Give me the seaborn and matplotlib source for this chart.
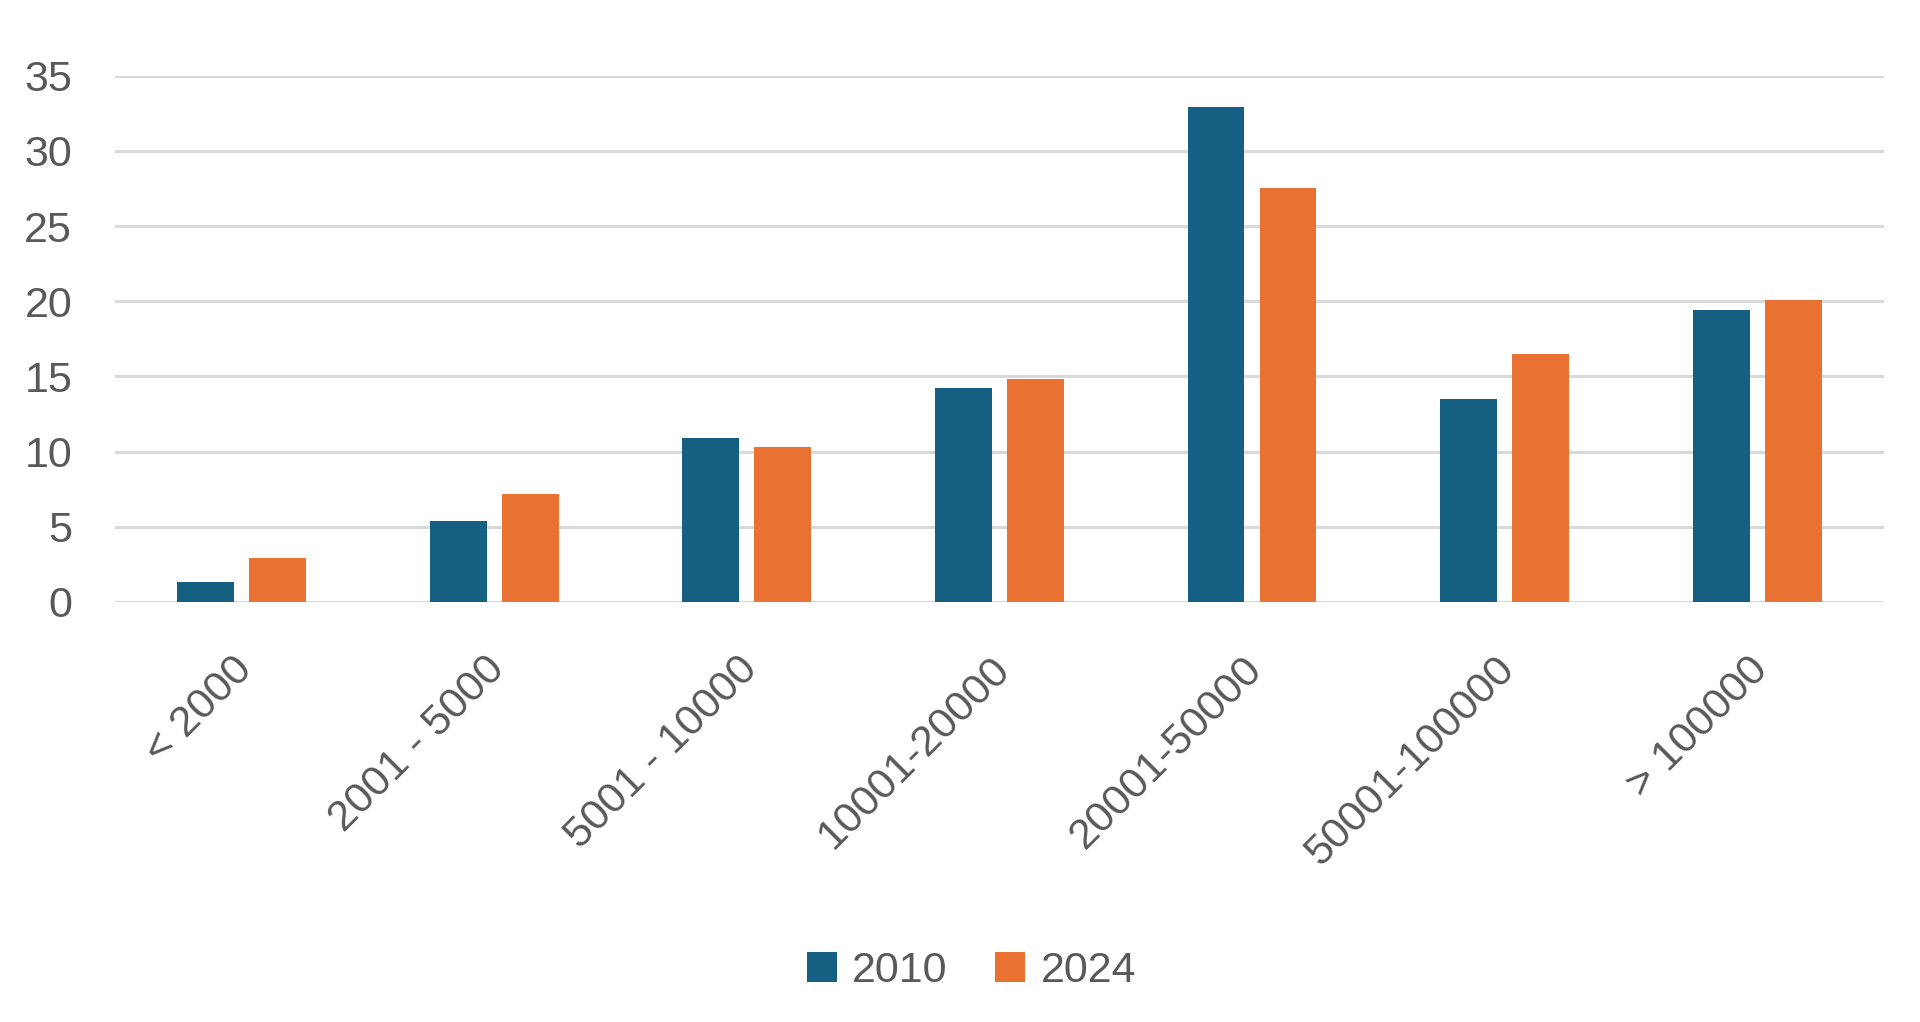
import matplotlib
matplotlib.use("Agg")
import matplotlib.pyplot as plt
import matplotlib.transforms as mtransforms
import seaborn as sns
import pandas as pd

categories = ["< 2000", "2001 - 5000", "5001 - 10000", "10001-20000",
              "20001-50000", "50001-100000", "> 100000"]
values_2010 = [1.3, 5.4, 10.9, 14.2, 32.9, 13.5, 19.4]
values_2024 = [2.9, 7.2, 10.3, 14.8, 27.5, 16.5, 20.1]
series_names = ["2010", "2024"]
colors = ["#156082", "#E97132"]

df = pd.DataFrame({
    "category": categories * 2,
    "value": values_2010 + values_2024,
    "year": [series_names[0]] * len(categories) + [series_names[1]] * len(categories),
})

sns.set_theme(style="white")
plt.rcParams['font.family'] = ['Liberation Sans', 'DejaVu Sans']

fig = plt.figure(figsize=(19.2, 10.22), dpi=100)
ax = fig.add_axes([0.060, 0.411, 0.921, 0.515])

sns.barplot(data=df, x="category", y="value", hue="year", order=categories,
            hue_order=series_names, palette=colors, width=0.57, gap=0.21,
            saturation=1, ax=ax, legend=True, edgecolor="none")

ax.set_ylim(0, 35)
ax.set_xlim(-0.5, len(categories) - 0.5)
ax.set_yticks(range(0, 36, 5))
ax.yaxis.grid(True, color="#D9D9D9", linewidth=2.2)
ax.set_axisbelow(True)
for s in ax.spines.values():
    s.set_visible(False)
ax.set_xlabel("")
ax.set_ylabel("")
ax.tick_params(axis="both", length=0, labelsize=31, colors="#595959")
ax.tick_params(axis="y", pad=31)
for lab in ax.get_yticklabels():
    lab.set_horizontalalignment("right")
ax.set_xticks(range(len(categories)))
ax.set_xticklabels(categories, rotation=45, ha="right", rotation_mode="anchor",
                   fontsize=31, color="#595959")
ax.tick_params(axis="x", pad=34)
offset = mtransforms.ScaledTranslation(-10 / 100, 0, fig.dpi_scale_trans)
for lab in ax.get_xticklabels():
    lab.set_transform(lab.get_transform() + offset)

handles, labels = ax.get_legend_handles_labels()
ax.legend_.remove()
fig.legend(handles, labels, loc="center", bbox_to_anchor=(0.506, 0.05), ncol=2,
           frameon=False, fontsize=31, labelcolor="#595959", handlelength=0.7,
           handleheight=0.7, handletextpad=0.35, columnspacing=1.1)

fig.savefig("out.png", dpi=100)
